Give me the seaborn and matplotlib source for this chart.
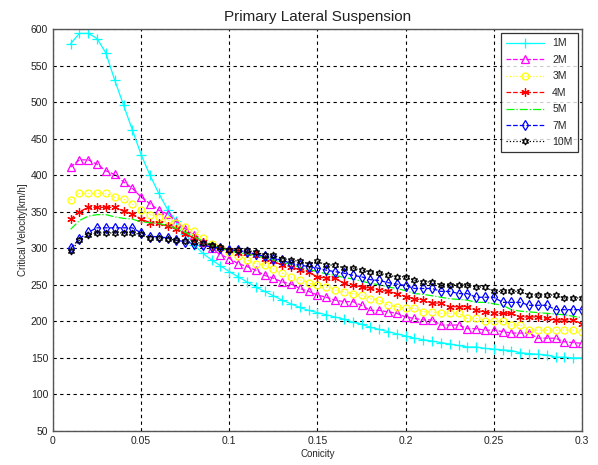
import matplotlib
matplotlib.use("Agg")
import matplotlib.pyplot as plt
import numpy as np
import pandas as pd
import seaborn as sns

conicity = [0.010, 0.015, 0.020, 0.025, 0.030, 0.035, 0.040, 0.045, 0.050, 0.055,
            0.060, 0.065, 0.070, 0.075, 0.080, 0.085, 0.090, 0.095, 0.100, 0.105,
            0.110, 0.115, 0.120, 0.125, 0.130, 0.135, 0.140, 0.145, 0.150, 0.155,
            0.160, 0.165, 0.170, 0.175, 0.180, 0.185, 0.190, 0.195, 0.200, 0.205,
            0.210, 0.215, 0.220, 0.225, 0.230, 0.235, 0.240, 0.245, 0.250, 0.255,
            0.260, 0.265, 0.270, 0.275, 0.280, 0.285, 0.290, 0.295, 0.300]

v_1m = [580, 594, 594, 587, 567, 530, 496, 462, 428, 400,
        375, 353, 337, 320, 305, 293, 284, 276, 268, 261,
        254, 247, 241, 235, 229, 224, 219, 215, 212, 209,
        206, 203, 199, 196, 192, 189, 186, 183, 180, 177,
        175, 173, 171, 169, 167, 165, 165, 163, 162, 161,
        160, 157, 156, 155, 154, 151, 151, 150, 150]
v_2m = [411, 421, 421, 415, 406, 401, 391, 382, 370, 361,
        352, 347, 336, 327, 318, 309, 300, 291, 286, 279,
        275, 270, 263, 259, 254, 251, 245, 241, 236, 233,
        229, 227, 227, 222, 215, 215, 213, 211, 206, 204,
        202, 202, 195, 195, 195, 190, 190, 188, 188, 186,
        184, 184, 184, 177, 177, 177, 172, 171, 170]
v_3m = [366, 375, 375, 375, 375, 370, 367, 361, 352, 346,
        343, 339, 334, 329, 323, 314, 306, 300, 295, 290,
        284, 279, 277, 272, 266, 261, 257, 252, 250, 247,
        243, 240, 238, 236, 231, 229, 222, 220, 218, 218,
        213, 213, 211, 211, 211, 204, 204, 200, 200, 200,
        195, 195, 188, 188, 188, 188, 188, 188, 186]
v_4m = [340, 350, 356, 356, 356, 356, 351, 347, 340, 335,
        334, 330, 327, 320, 314, 309, 303, 300, 298, 294,
        293, 291, 286, 282, 277, 275, 270, 267, 261, 259,
        259, 252, 250, 247, 245, 243, 241, 238, 234, 231,
        229, 225, 225, 220, 220, 220, 215, 213, 211, 211,
        211, 206, 206, 206, 204, 202, 202, 202, 197]
v_5m = [326, 338, 344, 346, 346, 343, 341, 340, 336, 335,
        334, 331, 327, 322, 316, 310, 304, 300, 297, 294,
        292, 290, 287, 284, 281, 278, 274, 271, 268, 265,
        263, 260, 258, 255, 252, 250, 247, 245, 242, 238,
        237, 235, 233, 231, 230, 229, 226, 226, 224, 222,
        216, 214, 213, 212, 211, 210, 209, 207, 205]
v_7m = [300, 313, 322, 328, 328, 328, 328, 328, 321, 316,
        316, 314, 311, 309, 306, 304, 302, 300, 298, 297,
        295, 292, 289, 286, 284, 279, 277, 275, 273, 270,
        268, 266, 263, 261, 257, 256, 253, 251, 249, 245,
        245, 245, 241, 241, 238, 238, 233, 233, 233, 226,
        226, 226, 222, 222, 222, 216, 216, 216, 216]
v_10m = [296, 311, 318, 321, 321, 321, 321, 321, 319, 314,
         314, 313, 311, 310, 308, 307, 305, 302, 298, 297,
         297, 295, 291, 291, 286, 284, 282, 279, 282, 277,
         277, 273, 273, 270, 268, 266, 263, 261, 261, 256,
         254, 254, 250, 250, 250, 250, 247, 247, 241, 241,
         241, 241, 236, 236, 236, 236, 232, 232, 232]

labels = ["1M", "2M", "3M", "4M", "5M", "7M", "10M"]
series = [v_1m, v_2m, v_3m, v_4m, v_5m, v_7m, v_10m]
colors = ["#00FFFF", "#FF00FF", "#FFFF00", "#FF0000", "#00FF00", "#0000FF", "#000000"]
markers = ["+", "^", "o", (6, 2, 0), None, "d", (6, 1, 0)]
lines = ["-", "--", ":", "--", "-.", "--", ":"]
msizes = [6.5, 5.5, 5, 6, 0, 5.5, 5]

sns.set_style("white")
plt.rcParams['font.family'] = ['Arial', 'Liberation Sans', 'DejaVu Sans']

fig = plt.figure(figsize=(5.98, 4.65), dpi=100)
ax = fig.add_axes([0.0886, 0.0731, 0.8846, 0.8645])

for lab, vals, c, m, ls, ms in zip(labels, series, colors, markers, lines, msizes):
    df = pd.DataFrame({"Conicity": conicity, "v": vals})
    kw = dict(color=c, linestyle=ls, linewidth=0.9, label=lab)
    if m is not None:
        kw.update(marker=m, markersize=ms, markerfacecolor="none",
                  markeredgecolor=c, markeredgewidth=0.9)
    sns.lineplot(data=df, x="Conicity", y="v", ax=ax, **kw)

ax.set_xlim(0, 0.3)
ax.set_ylim(50, 600)
ax.set_xticks([0, 0.05, 0.1, 0.15, 0.2, 0.25, 0.3])
ax.set_xticklabels(["0", "0.05", "0.1", "0.15", "0.2", "0.25", "0.3"])
ax.set_yticks(np.arange(50, 601, 50))
ax.tick_params(labelsize=7.5, length=3, direction="in", colors="#222222")
ax.grid(True, color="black", linestyle=(0, (3, 3)), linewidth=0.8)
for s in ax.spines.values():
    s.set_color("#555555")
    s.set_linewidth(1.0)

ax.set_xlabel("Conicity", fontsize=7, labelpad=2)
ax.set_ylabel("Critical Velocity[km/h]", fontsize=7, labelpad=2)
ax.set_title("Primary Lateral Suspension", fontsize=11, pad=6, color="#222222")

leg = ax.legend(loc="upper right", fontsize=7.5, frameon=True, fancybox=False,
                edgecolor="black", handlelength=3.6, labelspacing=0.62,
                borderaxespad=0.4, borderpad=0.5)
leg.get_frame().set_linewidth(0.9)

fig.savefig("out.png", dpi=100)
